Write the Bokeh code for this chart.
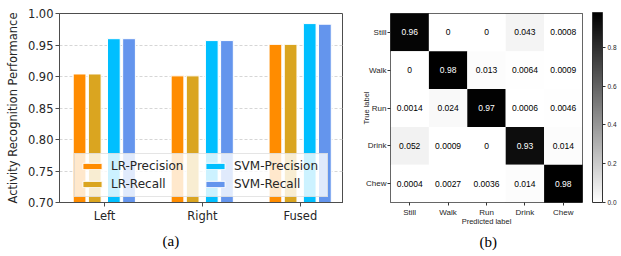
from bokeh.plotting import figure
from bokeh.models import (ColumnDataSource, Range1d, FactorRange, Legend, LegendItem,
                          LinearColorMapper, ColorBar, FixedTicker, Title, PrintfTickFormatter)
from bokeh.layouts import row
from bokeh.palettes import Greys256
from bokeh.transform import dodge
from bokeh.core.properties import value
from bokeh.embed import file_html
from bokeh.resources import INLINE

# ---------------- data: (a) bar chart ----------------
categories = ["Left", "Right", "Fused"]
lr_precision = [0.904, 0.901, 0.951]
lr_recall = [0.904, 0.901, 0.951]
svm_precision = [0.960, 0.957, 0.984]
svm_recall = [0.960, 0.957, 0.983]
series_names = ["LR-Precision", "LR-Recall", "SVM-Precision", "SVM-Recall"]
y_ticks = [0.70, 0.75, 0.80, 0.85, 0.90, 0.95, 1.00]

# ---------------- data: (b) confusion matrix ----------------
class_labels = ["Still", "Walk", "Run", "Drink", "Chew"]
row_still = [0.96, 0, 0, 0.043, 0.0008]
row_walk = [0, 0.98, 0.013, 0.0064, 0.0009]
row_run = [0.0014, 0.024, 0.97, 0.0006, 0.0046]
row_drink = [0.052, 0.0009, 0, 0.93, 0.014]
row_chew = [0.0004, 0.0027, 0.0036, 0.014, 0.98]
cbar_ticks = [0.0, 0.2, 0.4, 0.6, 0.8]

FONT = "DejaVu Sans"
TXT = "#262626"

# ================= figure (a) =================
xs = list(range(len(categories)))
src = ColumnDataSource(dict(x=xs, lrp=lr_precision, lrr=lr_recall,
                            svp=svm_precision, svr=svm_recall))

pa = figure(width=343, height=256, output_backend="svg", toolbar_location=None,
            x_range=Range1d(-0.46, 2.44), y_range=Range1d(0.70, 1.00),
            min_border_left=59, min_border_right=0, min_border_top=13, min_border_bottom=54)
pa.background_fill_color = "white"
pa.border_fill_color = "white"
pa.outline_line_color = "#4d4d4d"
pa.outline_line_width = 1

cols = ["lrp", "lrr", "svp", "svr"]
offsets = [-0.255, -0.1, 0.095, 0.25]
colors = ["#ff8c00", "#daa520", "#00bfff", "#6495ed"]
renderers = []
for c, off, colr in zip(cols, offsets, colors):
    r = pa.vbar(x=dodge("x", off), top=c, bottom=0, width=0.13, source=src,
                fill_color=colr, line_color="white", line_width=1)
    renderers.append(r)

pa.xaxis.ticker = FixedTicker(ticks=xs)
pa.xaxis.major_label_overrides = {i: c for i, c in enumerate(categories)}
pa.yaxis.ticker = FixedTicker(ticks=y_ticks)
pa.yaxis.formatter = PrintfTickFormatter(format="%.2f")
pa.yaxis.axis_label = "Activity Recognition Performance"
for ax in (pa.xaxis[0], pa.yaxis[0]):
    ax.major_label_text_font = FONT
    ax.major_label_text_font_size = "11.5px"
    ax.major_label_text_color = TXT
    ax.axis_label_text_font = FONT
    ax.axis_label_text_font_size = "11.5px"
    ax.axis_label_text_font_style = "normal"
    ax.axis_label_text_color = TXT
    ax.axis_line_color = "#4d4d4d"
    ax.major_tick_line_color = "#4d4d4d"
    ax.major_tick_out = 4
    ax.major_tick_in = 0
    ax.minor_tick_line_color = None
    ax.major_label_standoff = 2
pa.yaxis.axis_label_standoff = 5
pa.xgrid.visible = False
pa.ygrid.grid_line_color = "#cccccc"
pa.ygrid.grid_line_dash = "3 2"
pa.ygrid.grid_line_width = 0.8

legend = Legend(items=[LegendItem(label=n, renderers=[r]) for n, r in zip(series_names, renderers)],
                location=(15, 5), orientation="vertical", nrows=2,
                glyph_width=24, glyph_height=8, label_height=12, label_width=88,
                label_standoff=7, spacing=4, padding=5, margin=0,
                label_text_font=FONT, label_text_font_size="12px", label_text_color=TXT,
                background_fill_color="white", background_fill_alpha=0.8,
                border_line_color="#cccccc", border_line_width=1)
pa.add_layout(legend, "center")
pa.add_layout(Title(text="(a)", align="left", offset=103, text_font="Liberation Serif",
                    text_font_size="15px", text_font_style="normal", text_color="black",
                    standoff=10), "below")

# ================= figure (b) =================
xs_c, ys_c, vals, txts = [], [], [], []
for true_lab, rowvals in zip(class_labels, [row_still, row_walk, row_run, row_drink, row_chew]):
    for pred_lab, v in zip(class_labels, rowvals):
        xs_c.append(pred_lab)
        ys_c.append(true_lab)
        vals.append(v)
        txts.append("{:.2g}".format(v))
allvals = row_still + row_walk + row_run + row_drink + row_chew
vmax = max(allvals)
vmin = min(allvals)
tcols = ["white" if v > (vmax / 2) else "black" for v in vals]
csrc = ColumnDataSource(dict(x=xs_c, y=ys_c, v=vals, t=txts, tc=tcols))

mapper = LinearColorMapper(palette=list(reversed(Greys256)), low=vmin, high=vmax)

pb = figure(width=278, height=256, output_backend="svg", toolbar_location=None,
            x_range=FactorRange(*class_labels), y_range=FactorRange(*reversed(class_labels)),
            min_border_left=47, min_border_right=39, min_border_top=13, min_border_bottom=53)
pb.outline_line_color = "#333333"
pb.outline_line_width = 1
pb.rect(x="x", y="y", width=1, height=1, source=csrc,
        fill_color={"field": "v", "transform": mapper}, line_color=None)
pb.text(x="x", y="y", text="t", source=csrc, text_color="tc",
        text_align="center", text_baseline="middle",
        text_font=value("Liberation Sans"), text_font_size="8.5px")
pb.grid.visible = False
pb.xaxis.axis_label = "Predicted label"
pb.yaxis.axis_label = "True label"
for ax in (pb.xaxis[0], pb.yaxis[0]):
    ax.major_label_text_font = "Liberation Sans"
    ax.major_label_text_font_size = "8px"
    ax.major_label_text_color = TXT
    ax.axis_label_text_font = "Liberation Sans"
    ax.axis_label_text_font_size = "7.5px"
    ax.axis_label_text_font_style = "normal"
    ax.axis_label_text_color = TXT
    ax.axis_line_color = None
    ax.major_tick_line_color = "#333333"
    ax.major_tick_out = 3
    ax.major_tick_in = 0
    ax.major_label_standoff = 1
pb.xaxis.major_label_standoff = 2
pb.xaxis.axis_label_standoff = -3
pb.yaxis.axis_label_standoff = -8
pb.yaxis.major_label_orientation = "horizontal"

cbar = ColorBar(color_mapper=mapper, width=10, height=190, margin=0, padding=0,
                location=(202, 0),
                ticker=FixedTicker(ticks=cbar_ticks),
                formatter=PrintfTickFormatter(format="%.1f"),
                major_label_text_font="Liberation Sans", major_label_text_font_size="6.5px",
                major_label_text_color=TXT, major_tick_out=3, major_tick_in=0,
                major_tick_line_color="#333333", bar_line_color="#333333",
                border_line_color=None, background_fill_color=None,
                label_standoff=2)
pb.add_layout(cbar, "center")
pb.add_layout(Title(text="(b)", align="left", offset=89, text_font="Liberation Serif",
                    text_font_size="15px", text_font_style="normal", text_color="black",
                    standoff=7), "below")

layout = row(pa, pb)
open("out.html", "w").write(file_html(layout, INLINE))
